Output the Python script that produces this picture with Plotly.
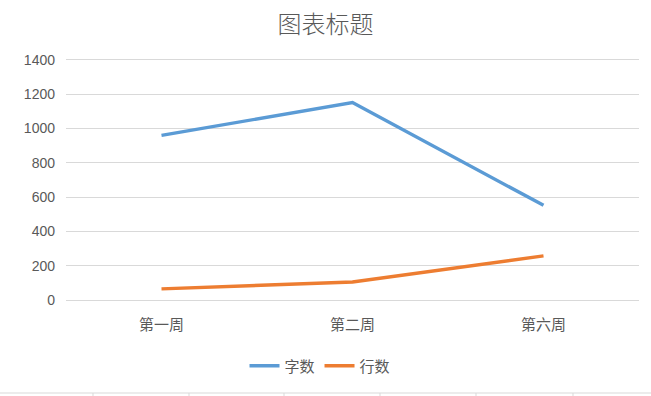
import plotly.graph_objects as go

categories = ["第一周", "第二周", "第六周"]
zishu = [960, 1152, 552]
hangshu = [65, 105, 257]
y_ticks = [0, 200, 400, 600, 800, 1000, 1200, 1400]

FONT = "Liberation Sans, Noto Sans CJK SC, sans-serif"
CJK = "Noto Sans CJK SC, sans-serif"
GRAY = "#595959"

fig = go.Figure()
fig.add_trace(go.Scatter(x=categories, y=zishu, mode="lines", name="字数",
                         line=dict(color="#5B9BD5", width=3.4)))
fig.add_trace(go.Scatter(x=categories, y=hangshu, mode="lines", name="行数",
                         line=dict(color="#ED7D31", width=3.4)))

L, R, T, B = 66, 12, 60, 96
W, H = 651, 396
pw = W - L - R
ph = H - T - B

shapes = []
# faint spreadsheet cell borders at the bottom
yb = -(393 - (H - B)) / ph
shapes.append(dict(type="line", xref="paper", yref="paper",
                   x0=-L / pw, x1=(W - L) / pw, y0=yb, y1=yb,
                   line=dict(color="#D9D9D9", width=1)))
for px in [93, 189, 284, 380, 476, 573]:
    xp = (px - L) / pw
    shapes.append(dict(type="line", xref="paper", yref="paper",
                       x0=xp, x1=xp, y0=yb, y1=-(396 - (H - B)) / ph,
                       line=dict(color="#D9D9D9", width=1)))

fig.update_layout(
    width=W, height=H,
    margin=dict(l=L, r=R, t=T, b=B, pad=0),
    paper_bgcolor="white", plot_bgcolor="white",
    font=dict(family=FONT, color=GRAY, size=14),
    title=dict(text="图表标题", x=0.5, xanchor="center", y=1 - 25 / H, yanchor="middle",
               font=dict(size=24, color=GRAY, family=CJK, weight=300)),
    xaxis=dict(type="category", range=[-0.5, 2.5], showgrid=False, zeroline=False,
               showline=True, linecolor="#D9D9D9", linewidth=1, mirror=True,
               ticks="", ticklabelstandoff=11,
               tickfont=dict(size=15, color=GRAY, family=CJK)),
    yaxis=dict(range=[0, 1400], tickvals=y_ticks, showgrid=True, gridcolor="#D9D9D9",
               gridwidth=1, zeroline=False, showline=False, ticks="",
               ticklabelstandoff=10, tickfont=dict(size=14, color=GRAY)),
    legend=dict(orientation="h", x=(320 - L) / pw, xanchor="center",
                y=-(366 - (H - B)) / ph, yanchor="middle",
                font=dict(size=15, color=GRAY, family=CJK),
                itemwidth=30, traceorder="normal"),
    shapes=shapes,
)

fig.write_html("out.html", config={"displayModeBar": False})
with open("out.html", "r", encoding="utf-8") as f:
    html = f.read()
html = html.replace("<body>", '<body style="margin:0;padding:0;overflow:hidden">', 1)
with open("out.html", "w", encoding="utf-8") as f:
    f.write(html)
